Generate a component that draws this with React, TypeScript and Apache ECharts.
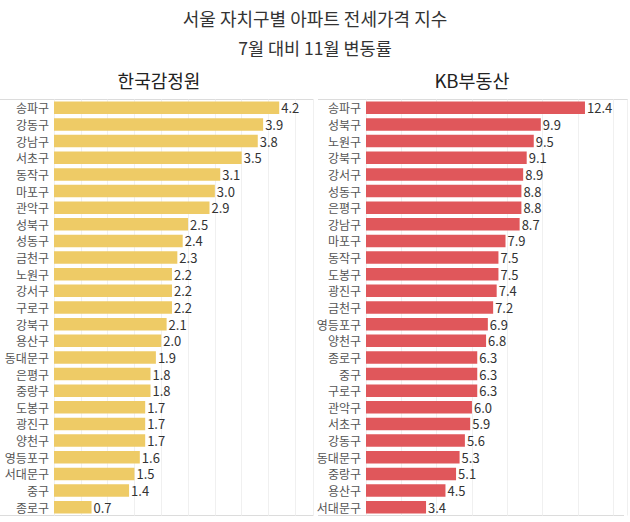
import React, { useEffect, useRef } from "react";
import * as echarts from "echarts";

const titleLine1 = "서울 자치구별 아파트 전세가격 지수";
const titleLine2 = "7월 대비 11월 변동률";
const leftTitle = "한국감정원";
const rightTitle = "KB부동산";

const leftDistricts = ["송파구","강동구","강남구","서초구","동작구","마포구","관악구","성북구","성동구","금천구","노원구","강서구","구로구","강북구","용산구","동대문구","은평구","중랑구","도봉구","광진구","양천구","영등포구","서대문구","중구","종로구"];
const leftValues = [4.2,3.9,3.8,3.5,3.1,3.0,2.9,2.5,2.4,2.3,2.2,2.2,2.2,2.1,2.0,1.9,1.8,1.8,1.7,1.7,1.7,1.6,1.5,1.4,0.7];

const rightDistricts = ["송파구","성북구","노원구","강북구","강서구","성동구","은평구","강남구","마포구","동작구","도봉구","광진구","금천구","영등포구","양천구","종로구","중구","구로구","관악구","서초구","강동구","동대문구","중랑구","용산구","서대문구"];
const rightValues = [12.4,9.9,9.5,9.1,8.9,8.8,8.8,8.7,7.9,7.5,7.5,7.4,7.2,6.9,6.8,6.3,6.3,6.3,6.0,5.9,5.6,5.3,5.1,4.5,3.4];

const FONT = "'Noto Sans CJK KR', 'Noto Sans', sans-serif";

export default function App() {
  const ref = useRef<HTMLDivElement>(null);
  useEffect(() => {
    if (!ref.current) return;
    const chart = echarts.init(ref.current, null, { renderer: "svg" });
    const top = 99.5;
    const height = 416;
    const labelStyle = { color: "#333", fontSize: 13, lineHeight: 14, fontFamily: FONT };
    const catLabel = { color: "#555", fontSize: 12, lineHeight: 14, margin: 5, fontFamily: FONT };
    chart.setOption({
      animation: false,
      backgroundColor: "#fff",
      textStyle: { fontFamily: FONT },
      grid: [
        { left: 54, top, width: 259, height },
        { left: 366, top, width: 261, height },
      ],
      xAxis: [
        {
          gridIndex: 0, type: "value", min: 0, max: 4.83, interval: 0.5,
          axisLabel: { show: false }, axisLine: { show: false }, axisTick: { show: false },
          splitLine: { lineStyle: { color: "#f0f0f0" } },
        },
        {
          gridIndex: 1, type: "value", min: 0, max: 14.78, interval: 2,
          axisLabel: { show: false }, axisLine: { show: false }, axisTick: { show: false },
          splitLine: { lineStyle: { color: "#f0f0f0" } },
        },
      ],
      yAxis: [
        {
          gridIndex: 0, type: "category", data: leftDistricts, inverse: true,
          axisLine: { show: false }, axisTick: { show: false }, axisLabel: catLabel,
        },
        {
          gridIndex: 1, type: "category", data: rightDistricts, inverse: true,
          axisLine: { show: false }, axisTick: { show: false }, axisLabel: catLabel,
        },
      ],
      series: [
        {
          type: "bar", xAxisIndex: 0, yAxisIndex: 0, data: leftValues, barWidth: 12.5,
          itemStyle: { color: "#EECB66" },
          label: { show: true, position: "right", distance: 2, formatter: (p: any) => p.value.toFixed(1), ...labelStyle },
        },
        {
          type: "bar", xAxisIndex: 1, yAxisIndex: 1, data: rightValues, barWidth: 12.5,
          itemStyle: { color: "#E0575B" },
          label: { show: true, position: "right", distance: 2, formatter: (p: any) => p.value.toFixed(1), ...labelStyle },
        },
      ],
      graphic: [
        { type: "text", x: 315, y: 18, style: { text: titleLine1, fontSize: 18, fill: "#333", fontFamily: FONT, align: "center", verticalAlign: "middle" } },
        { type: "text", x: 315, y: 47, style: { text: titleLine2, fontSize: 17.5, fill: "#333", fontFamily: FONT, align: "center", verticalAlign: "middle" } },
        { type: "text", x: 159, y: 80, style: { text: leftTitle, fontSize: 18, fill: "#222", fontFamily: FONT, align: "center", verticalAlign: "middle" } },
        { type: "text", x: 472, y: 80, style: { text: rightTitle, fontSize: 18.5, fill: "#222", fontFamily: FONT, align: "center", verticalAlign: "middle" } },
        { type: "line", shape: { x1: 0, y1: 99.5, x2: 313, y2: 99.5 }, style: { stroke: "#dcdcdc", lineWidth: 1 } },
        { type: "line", shape: { x1: 318, y1: 99.5, x2: 628, y2: 99.5 }, style: { stroke: "#dcdcdc", lineWidth: 1 } },
        { type: "line", shape: { x1: 313.5, y1: 99.5, x2: 313.5, y2: 515.5 }, style: { stroke: "#dcdcdc", lineWidth: 1 } },
        { type: "line", shape: { x1: 0, y1: 515.5, x2: 313, y2: 515.5 }, style: { stroke: "#dcdcdc", lineWidth: 1 } },
        { type: "line", shape: { x1: 318, y1: 515.5, x2: 624, y2: 515.5 }, style: { stroke: "#dcdcdc", lineWidth: 1 } },
      ],
    });
    return () => chart.dispose();
  }, []);
  return <div ref={ref} style={{ width: 630, height: 522, position: "absolute", left: 0, top: 0 }} />;
}
